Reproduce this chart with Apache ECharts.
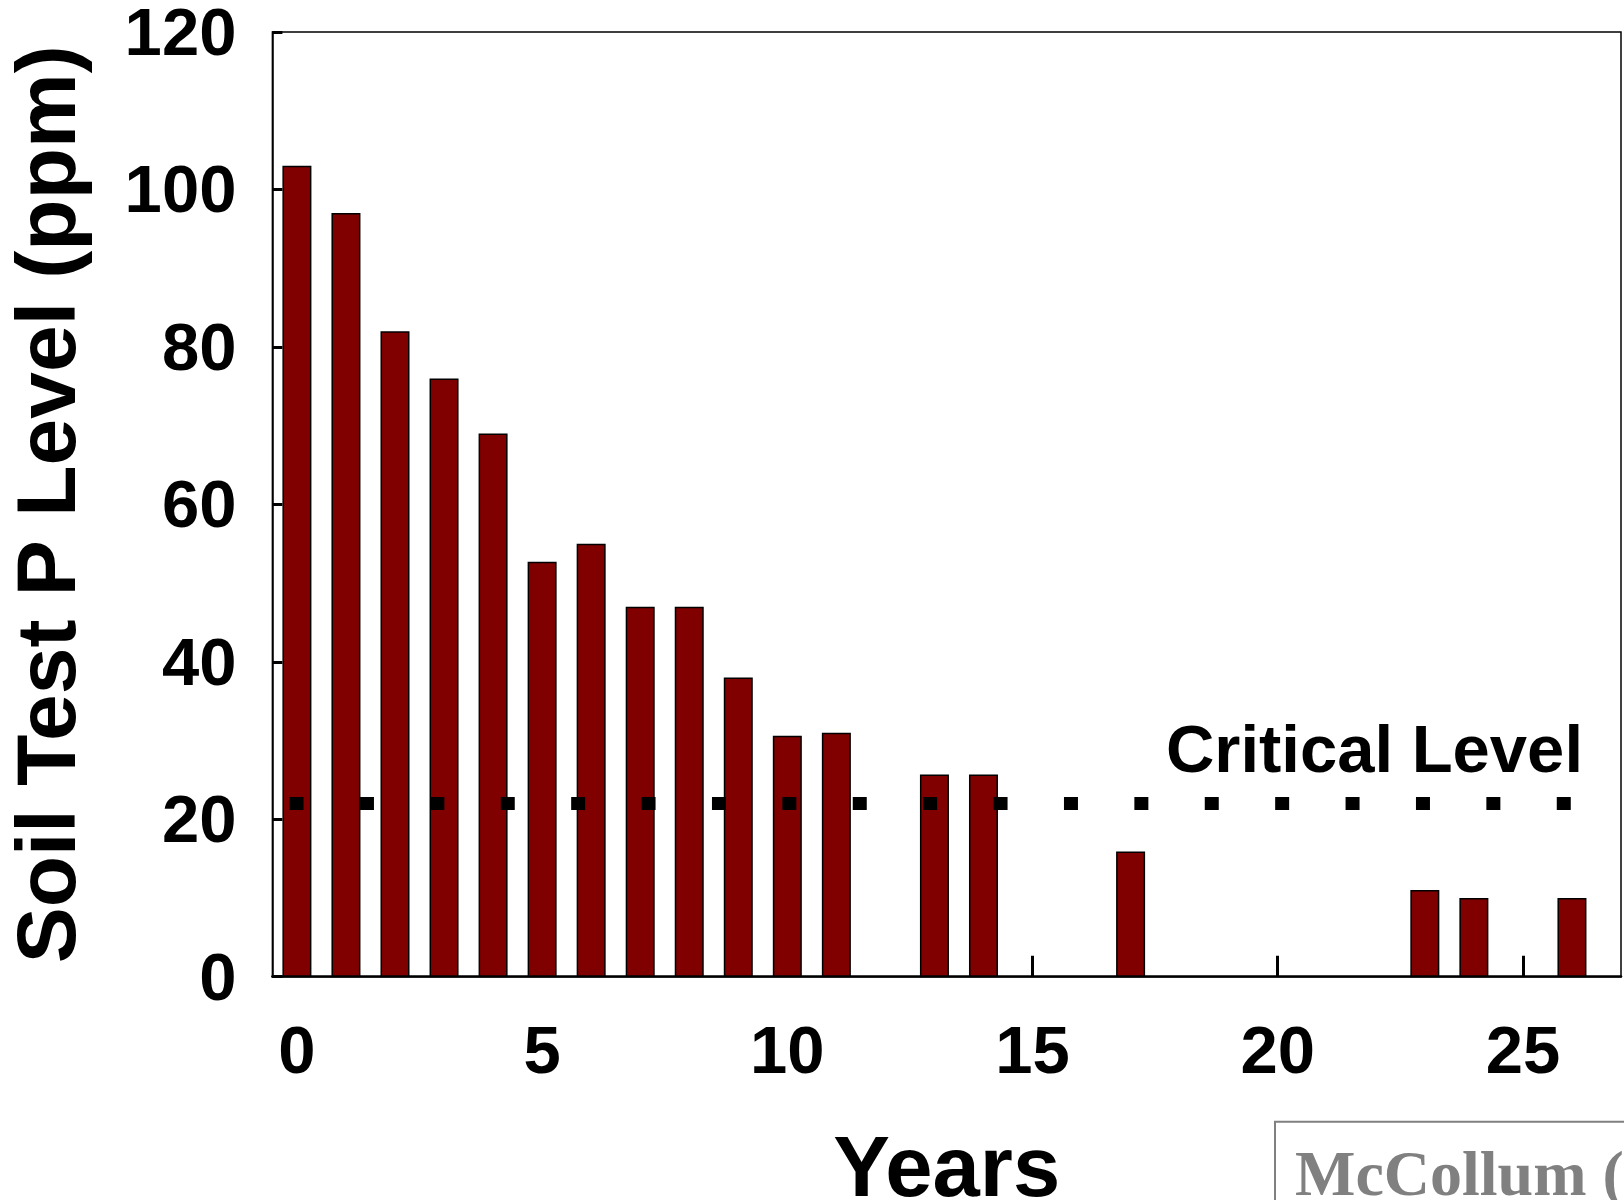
<!DOCTYPE html>
<html><head><meta charset="utf-8">
<script src="https://cdn.jsdelivr.net/npm/echarts@6/dist/echarts.min.js"></script>
<style>html,body{margin:0;padding:0;background:#fff}#c{width:1624px;height:1200px}</style>
</head><body><div id="c"></div>
<script>
// ---- data ----
const years = [0,1,2,3,4,5,6,7,8,9,10,11,13,14,17,23,24,26];
const soilP = [103,97,82,76,69,52.7,55,47,47,38,30.6,31,25.7,25.7,15.9,11,10,10];
const criticalLevel = 22;
const criticalSpan = [-0.15, 26];
const xTicks = [0,5,10,15,20,25];
const yTicks = [0,20,40,60,80,100,120];
const xTitle = 'Years';
const yTitle = 'Soil Test P Level (ppm)';
const criticalLabel = 'Critical Level';
const sourceLabel = 'McCollum (';

const SANS = "'Liberation Sans', Arial, Helvetica, sans-serif";
const SERIF = "'Liberation Serif', 'Times New Roman', serif";

const chart = echarts.init(document.getElementById('c'), null, {renderer: 'canvas'});
chart.setOption({
  animation: false,
  backgroundColor: '#fff',
  grid: {left: 272.4, right: 3, top: 32, bottom: 223.3, show: true, borderColor: '#000', borderWidth: 1.5,
         backgroundColor: 'transparent', containLabel: false, outerBoundsMode: 'none'},
  xAxis: {
    type: 'value', min: -0.5, max: 27,
    name: xTitle, nameLocation: 'middle', nameGap: 153,
    nameTextStyle: {fontSize: 85, fontWeight: 'bold', color: '#000', fontFamily: SANS},
    axisLine: {show: true, onZero: false, lineStyle: {color: '#000', width: 2.5}},
    axisTick: {show: true, inside: true, length: 21, lineStyle: {color: '#000', width: 3}, customValues: xTicks},
    axisLabel: {show: true, customValues: xTicks, margin: 44, fontSize: 67, fontWeight: 'bold', color: '#000', fontFamily: SANS},
    splitLine: {show: false}
  },
  yAxis: {
    type: 'value', min: yTicks[0], max: yTicks[yTicks.length-1], interval: 20,
    name: yTitle, nameLocation: 'middle', nameGap: 179,
    nameTextStyle: {fontSize: 84, fontWeight: 'bold', color: '#000', fontFamily: SANS},
    axisLine: {show: true, onZero: false, lineStyle: {color: '#000', width: 1.5}},
    axisTick: {show: true, inside: true, length: 10, lineStyle: {color: '#000', width: 3}},
    axisLabel: {show: true, margin: 36, fontSize: 67, fontWeight: 'bold', color: '#000', fontFamily: SANS,
                verticalAlign: 'top', lineHeight: 9},
    splitLine: {show: false}
  },
  series: [
    {
      type: 'bar',
      data: years.map((y, i) => [y, soilP[i]]),
      barWidth: 29,
      itemStyle: {color: '#800000', borderColor: '#000', borderWidth: 1.5},
      silent: true
    },
    {
      type: 'line',
      data: criticalSpan.map(x => [x, criticalLevel]),
      symbol: 'none',
      lineStyle: {color: '#000', width: 13, type: [14, 56.4], cap: 'butt'},
      silent: true,
      z: 5
    }
  ],
  graphic: [
    {type: 'text', x: 1583, y: 754, z: 10,
     style: {text: criticalLabel, font: 'bold 67px ' + SANS, fill: '#000', textAlign: 'right', textVerticalAlign: 'middle'}},
    {type: 'rect', x: 0, y: 0, z: 10,
     shape: {x: 1275, y: 1121.7, width: 400, height: 200},
     style: {fill: 'none', stroke: '#808080', lineWidth: 2}},
    {type: 'text', x: 1295, y: 1178, z: 10,
     style: {text: sourceLabel, font: 'bold 64px ' + SERIF, fill: '#808080', textAlign: 'left', textVerticalAlign: 'middle'}}
  ]
});
</script></body></html>
